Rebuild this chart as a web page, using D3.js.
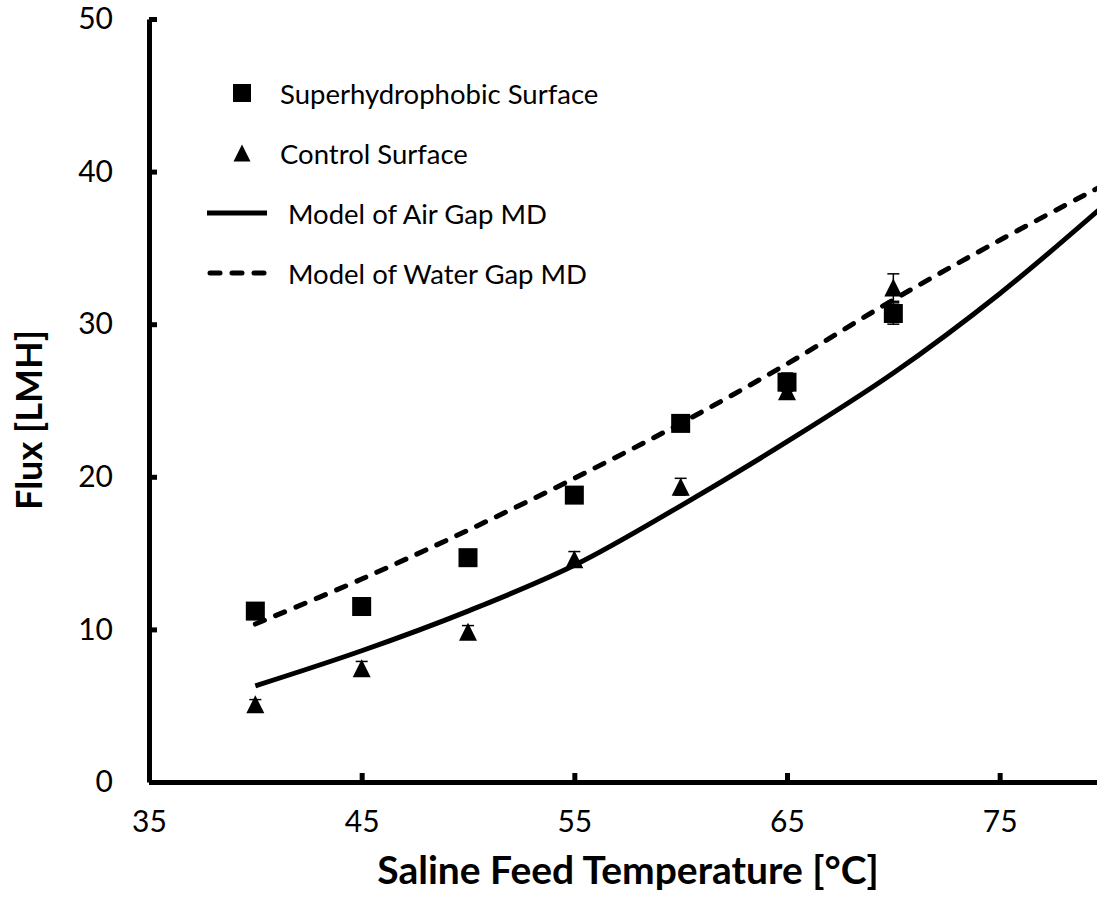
<!DOCTYPE html>
<html lang="en">
<head>
    <meta charset="UTF-8">
    <title>Flux vs Saline Feed Temperature</title>
    <style>
        body {
            margin: 0;
            padding: 0;
            background-color: #fff;
        }

        svg {
            display: block;
            font-family: Lato, "Open Sans", sans-serif;
        }

        .axis path,
        .axis line {
            fill: none;
            stroke: #000;
            stroke-width: 5;
        }

        .axis text {
            font-family: Lato, "Open Sans", sans-serif;
            font-size: 30px;
            fill: #000;
        }

        .title {
            font-weight: bold;
        }

        .legend text {
            font-size: 27.5px;
        }
    </style>
</head>
<body>

<svg width="1097" height="910" id="chart"></svg>

<script src="https://d3js.org/d3.v7.min.js"></script>
<script>
    // measured temperatures (°C)
    const temps = [40, 45, 50, 55, 60, 65, 70];
    const superFlux = [11.2, 11.5, 14.7, 18.8, 23.5, 26.2, 30.7];
    const superErr = [0.3, 0.3, 0.3, 0.3, 0.4, 0.6, 0.7];
    const controlFlux = [5.1, 7.45, 9.85, 14.6, 19.35, 25.6, 32.4];
    const controlErr = [0.3, 0.45, 0.4, 0.5, 0.55, 0.4, 0.9];

    // model curves
    const modelTemps = [40, 45, 50, 55, 60, 65, 70, 75, 80];
    const airGapModel = [6.3, 8.6, 11.2, 14.2, 18.1, 22.3, 26.8, 32.0, 37.9];
    const waterGapModel = [10.35, 13.3, 16.5, 19.9, 23.5, 27.4, 31.6, 35.5, 39.2];

    const xTicks = [35, 45, 55, 65, 75];
    const yTicks = [0, 10, 20, 30, 40, 50];

    const svg = d3.select("#chart");

    const margin = { top: 19, left: 149 };
    const width = 957;
    const height = 763;

    const x = d3.scaleLinear().domain([35, 80]).range([0, width]);
    const y = d3.scaleLinear().domain([0, 50]).range([height, 0]);

    const g = svg.append("g")
        .attr("transform", `translate(${margin.left},${margin.top})`);

    // axes, ticks pointing inward
    g.append("g")
        .attr("class", "axis")
        .attr("transform", `translate(0,${height})`)
        .call(d3.axisBottom(x).tickValues(xTicks).tickSizeInner(-9).tickSizeOuter(0).tickPadding(29));

    g.append("g")
        .attr("class", "axis")
        .call(d3.axisLeft(y).tickValues(yTicks).tickSizeInner(-8).tickSizeOuter(0).tickPadding(36));

    g.selectAll(".axis .tick line").attr("stroke-width", 4.5);

    // model lines
    const line = (vals) => d3.line()
        .x((d, i) => x(modelTemps[i]))
        .y(d => y(d))
        .curve(d3.curveCatmullRom)(vals);

    g.append("path")
        .attr("d", line(airGapModel))
        .attr("fill", "none")
        .attr("stroke", "#000")
        .attr("stroke-width", 5);

    g.append("path")
        .attr("d", line(waterGapModel))
        .attr("fill", "none")
        .attr("stroke", "#000")
        .attr("stroke-width", 5)
        .attr("stroke-linecap", "round")
        .attr("stroke-dasharray", "10,12");

    // error bars
    function errorBars(vals, errs) {
        const eb = g.append("g").attr("stroke", "#000").attr("stroke-width", 1.5);
        temps.forEach((t, i) => {
            const cx = x(t);
            const y1 = y(vals[i] + errs[i]);
            const y2 = y(vals[i] - errs[i]);
            eb.append("line").attr("x1", cx).attr("x2", cx).attr("y1", y1).attr("y2", y2);
            eb.append("line").attr("x1", cx - 6).attr("x2", cx + 6).attr("y1", y1).attr("y2", y1);
            eb.append("line").attr("x1", cx - 6).attr("x2", cx + 6).attr("y1", y2).attr("y2", y2);
        });
    }
    errorBars(controlFlux, controlErr);
    errorBars(superFlux, superErr);

    const tri = (s) => `M0,${-s / 2}L${s / 2},${s / 2}L${-s / 2},${s / 2}Z`;

    g.selectAll(".tri")
        .data(controlFlux)
        .enter().append("path")
        .attr("class", "tri")
        .attr("d", tri(18))
        .attr("transform", (d, i) => `translate(${x(temps[i])},${y(d)})`);

    g.selectAll(".sq")
        .data(superFlux)
        .enter().append("rect")
        .attr("class", "sq")
        .attr("x", (d, i) => x(temps[i]) - 9.5)
        .attr("y", d => y(d) - 9.5)
        .attr("width", 19)
        .attr("height", 19);

    // axis titles
    svg.append("text")
        .attr("class", "title")
        .attr("x", 628)
        .attr("y", 884)
        .attr("text-anchor", "middle")
        .style("font-size", "39px")
        .text("Saline Feed Temperature [°C]");

    svg.append("text")
        .attr("class", "title")
        .attr("transform", "translate(28,420) rotate(-90)")
        .attr("text-anchor", "middle")
        .attr("dominant-baseline", "central")
        .style("font-size", "36px")
        .text("Flux [LMH]");

    // legend
    const legend = svg.append("g").attr("class", "legend");
    legend.append("rect").attr("x", 233).attr("y", 84).attr("width", 18).attr("height", 18);
    legend.append("path").attr("d", tri(17)).attr("transform", "translate(242,153)");
    legend.append("line").attr("x1", 207).attr("x2", 267).attr("y1", 213).attr("y2", 213)
        .attr("stroke", "#000").attr("stroke-width", 5);
    legend.append("line").attr("x1", 210).attr("x2", 267).attr("y1", 273).attr("y2", 273)
        .attr("stroke", "#000").attr("stroke-width", 5)
        .attr("stroke-linecap", "round").attr("stroke-dasharray", "10,12");

    const legendItems = [
        { label: "Superhydrophobic Surface", x: 280, y: 93 },
        { label: "Control Surface", x: 280, y: 153 },
        { label: "Model of Air Gap MD", x: 288, y: 213 },
        { label: "Model of Water Gap MD", x: 288, y: 273 }
    ];
    legend.selectAll(".lt")
        .data(legendItems)
        .enter().append("text")
        .attr("x", d => d.x)
        .attr("y", d => d.y)
        .attr("dominant-baseline", "central")
        .text(d => d.label);
</script>
</body>
</html>
